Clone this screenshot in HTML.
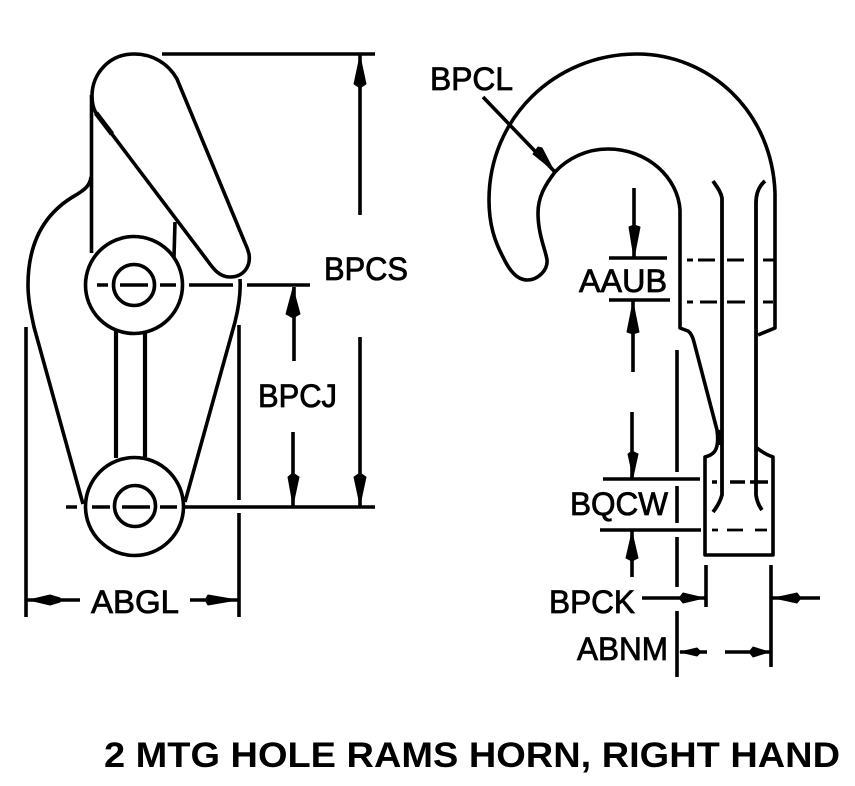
<!DOCTYPE html>
<html><head><meta charset="utf-8"><style>
html,body{margin:0;padding:0;background:#fff}
svg{display:block}
text{font-family:"Liberation Sans",sans-serif;font-size:32px;fill:#000;stroke:#000;stroke-width:.8;stroke-linecap:butt}
</style></head><body>
<svg width="855" height="786" viewBox="0 0 855 786" xmlns="http://www.w3.org/2000/svg">
<rect width="855" height="786" fill="#fff"/>
<g fill="none" stroke="#000" stroke-width="3.6" stroke-linejoin="round">
<!-- left view lever -->
<path d="M177 79C168 63 152 54 134 54C110 54 92 73 92 96C92 103 93 108 96 113L207 260C214 270 220 277 230 277C243 277 251 267 249 254C248 250 247 247 245 243Z"/>
<path d="M91.500 95V253" stroke-width="3.6"/>
<path d="M96 113L112 134" stroke-width="5"/>
<path d="M175 222L174 257"/>
<path d="M91 177C90 186 84 190 76 195C44 213 28 243 28 285C28 300 31 313 34 327L83 504"/>
<path d="M240 279C241 295 238 310 235 322L185 502"/>
<circle cx="134" cy="285" r="48.5"/>
<circle cx="134" cy="285" r="20.5"/>
<circle cx="134.500" cy="506.500" r="49"/>
<circle cx="135" cy="506" r="20.500"/>
<path d="M116 330V458M145 333V457" stroke-width="4.2"/>
<!-- center lines -->
<path d="M97 285H108M120 285H148M160 285H176M189 285H233M247 285H310"/>
<path d="M66 507H77M92 507H110M122 507H150M160 507H177M185 507H375"/>
<!-- left dims -->
<path d="M162 54H375M360 54V215M360 337V507M294 287V361M293 432V507"/>
<path d="M26 327V617M239 325V500M239 513V617M27 600H80M190 600H239"/>
<!-- hook -->
<path d="M775 193C772 110 708 54 637 54C555 54 489 118 489 200C489 225 495 242 503 257C510 272 518 280 527 280C538 280 548 270 547 260C546 251 538 235 538 213C538 197 545 185 555 172C568 158 587 149 608 149C648 149 678 178 680 210V328L688 331C691 333 693 338 694 342L717 430C718 437 718 444 716 449C714 454 709 456 705 457V555H773V457C767 455 762 452 757 448"/>
<path d="M775 193V328L758 335"/>
<path d="M713 181C717 187 721 192 722 198V495C720 502 717 507 713 512" stroke-width="3.8"/>
<path d="M765 181C759 186 756 194 756 203V495C757 502 759 506 762 510" stroke-width="3.8"/>
<path d="M718 430L720 445" stroke-width="4.5"/>
<!-- hidden lines -->
<path d="M687 260H693M698 260H715M727 260H744M763 260H775M687 302H693M700 302H717M727 302H745M763 302H773" stroke-width="3"/>
<path d="M712 482H717M730 482H745M750 482H768" stroke-width="3.6"/>
<path d="M712 530H718M727 530H743M755 530H767" stroke-width="2.8"/>
<!-- hook dims -->
<path d="M483 97L555 172"/>
<path d="M634 188V259M609 258H667M609 300H670M633 301V372M632 412V478M603 479H700M600 530H701M632 531V577"/>
<path d="M677 350V472M677 486V523M677 537V587M677 611V677"/>
<path d="M706 565V607M771 565V667M642 598H706M772 598H820M680 652H707M725 652H770"/>
</g>
<!-- arrowheads -->
<g fill="#000" stroke="#000" stroke-width="1" stroke-linejoin="round">
<polygon points="360,56 354,84 360,88 366,84"/>
<polygon points="360,505 354,477 360,473 366,477"/>
<polygon points="293,288 286,314 293,318 300,314"/>
<polygon points="293,505 288,477 293,473 299,477"/>
<polygon points="29,600 50,595 60,598 60,602 50,605"/>
<polygon points="237,600 208,595 205,600 208,605"/>
<polygon points="554,171 533,154 538,147 542,148"/>
<polygon points="634,258 629,227 634,225 640,227"/>
<polygon points="633,302 627,332 633,334 639,332"/>
<polygon points="633,477 628,454 632,451 638,454"/>
<polygon points="632,532 626,558 632,561 638,558"/>
<polygon points="704,598 683,593 679,598 683,603"/>
<polygon points="774,598 797,593 801,598 797,603"/>
<polygon points="680,652 697,648 701,652 697,656"/>
<polygon points="769,652 753,647 749,652 753,657"/>
</g>
<!-- labels -->
<text x="324" y="280" textLength="84" lengthAdjust="spacingAndGlyphs">BPCS</text>
<text x="258" y="407" textLength="79" lengthAdjust="spacingAndGlyphs">BPCJ</text>
<text x="91" y="613" textLength="88" lengthAdjust="spacingAndGlyphs">ABGL</text>
<text x="430" y="90" textLength="83" lengthAdjust="spacingAndGlyphs">BPCL</text>
<text x="579" y="292" textLength="88" lengthAdjust="spacingAndGlyphs">AAUB</text>
<text x="570" y="515" textLength="98" lengthAdjust="spacingAndGlyphs">BQCW</text>
<text x="549" y="613" textLength="86" lengthAdjust="spacingAndGlyphs">BPCK</text>
<text x="577" y="660" textLength="91" lengthAdjust="spacingAndGlyphs">ABNM</text>
<text x="104" y="767" textLength="736" lengthAdjust="spacingAndGlyphs" style="font-weight:bold;font-size:35px;stroke-width:0">2 MTG HOLE RAMS HORN, RIGHT HAND</text>
</svg>
</body></html>
